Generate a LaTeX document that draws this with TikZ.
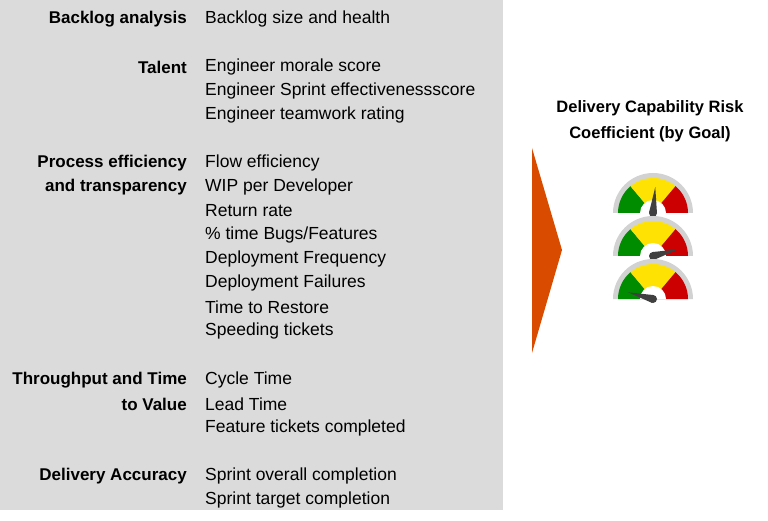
\documentclass[tikz,border=0pt]{standalone}
\usepackage{fontspec}
\setmainfont{Liberation Sans}
\begin{document}
\begin{tikzpicture}[x=1pt,y=-1pt,
 lab/.style={anchor=east,font=\fontsize{17}{18}\selectfont\bfseries,inner sep=0},
 val/.style={anchor=west,font=\fontsize{17.5}{18}\selectfont,inner sep=0},
 ttl/.style={anchor=center,font=\fontsize{16.5}{18}\selectfont\bfseries,inner sep=0}]
\useasboundingbox (0,0) rectangle (768,521);
\fill[gray!28] (0,0) rectangle (503,510);
\def\L#1#2{\node[lab] at (187,#1) {#2};}
\def\V#1#2{\node[val] at (205,#1) {#2};}
\L{19}{Backlog analysis}\V{19}{Backlog size and health}
\L{67}{Talent}\V{67}{Engineer morale score}
\V{91}{Engineer Sprint effectivenessscore}\V{115}{Engineer teamwork rating}
\L{163}{Process efficiency}\L{187}{and transparency}
\V{163}{Flow efficiency}\V{187}{WIP per Developer}\V{211}{Return rate}
\V{235}{\% time Bugs/Features}\V{259}{Deployment Frequency}\V{283}{Deployment Failures}
\V{307}{Time to Restore}\V{331}{Speeding tickets}
\L{380}{Throughput and Time}\L{404}{to Value}
\V{380}{Cycle Time}\V{404}{Lead Time}\V{428}{Feature tickets completed}
\L{476}{Delivery Accuracy}
\V{476}{Sprint overall completion}\V{500}{Sprint target completion}
\node[ttl] (t1) at (650,108) {Delivery Capability Risk};
\node[ttl] (t2) at (650,134) {Coefficient (by Goal)};
\fill[orange!70!red!85!black] (532,148) -- (562,250) -- (532,353) -- cycle;
\foreach \cy/\ang in {213/85,256/15,299/165}{
 \begin{scope}[shift={(653,\cy)},yscale=-1]
 \fill[gray!35] (-40,0) arc[start angle=180,end angle=0,radius=40] -- cycle;
 \fill[green!55!black] (0,0) -- (-35,0) arc[start angle=180,end angle=130,radius=35] -- cycle;
 \fill[yellow!85!orange] (0,0) -- (130:35) arc[start angle=130,end angle=50,radius=35] -- cycle;
 \fill[red!80!black] (0,0) -- (50:35) arc[start angle=50,end angle=0,radius=35] -- cycle;
 \fill[white] (-13,0) arc[start angle=180,end angle=0,radius=13] -- cycle;
 \fill[black!75] (\ang+90:4) -- (\ang:26) -- (\ang-90:4) -- cycle;
 \fill[black!75] (0,0) circle (4);
 \end{scope}}
\end{tikzpicture}
\end{document}
